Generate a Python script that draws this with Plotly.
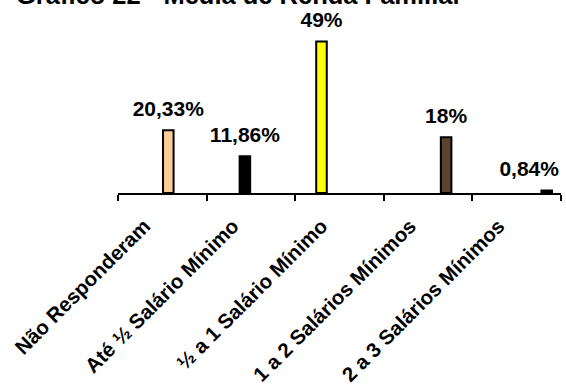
import plotly.graph_objects as go

categories = ["Não Responderam", "Até ½ Salário Mínimo", "½ a 1 Salário Mínimo",
              "1 a 2 Salários Mínimos", "2 a 3 Salários Mínimos"]
values = [20.33, 11.86, 49, 18, 0.84]
labels = ["20,33%", "11,86%", "49%", "18%", "0,84%\u00a0\u00a0\u00a0\u00a0\u00a0\u00a0"]
colors = ["#FFCC99", "#000000", "#FFFF00", "#5B4332", "#000000"]
# order of series within each category group (None = empty slot)
series_order = [None, 2, 1, 0, 3, 4]

title = "Gráfico 22 - Média de Renda Familiar"
FONT = "Liberation Sans, Arial, sans-serif"

fig = go.Figure()
for k, idx in enumerate(series_order):
    ys = [None] * len(categories)
    col = "#ffffff"
    if idx is not None:
        ys[idx] = values[idx]
        col = colors[idx]
    fig.add_trace(go.Bar(x=categories, y=ys, marker=dict(color=col, line=dict(color="#000000", width=2)),
                         offsetgroup=str(k), alignmentgroup="a", showlegend=False, hoverinfo="skip"))
for k, idx in enumerate(series_order):
    ys = [None] * len(categories)
    ts = [""] * len(categories)
    if idx is not None:
        ys[idx] = values[idx]
        ts[idx] = labels[idx]
    fig.add_trace(go.Scatter(x=categories, y=ys, text=ts, mode="markers+text", textposition="top center",
                             marker=dict(size=13, opacity=0),
                             textfont=dict(family=FONT, size=21, color="#000000", weight="bold"),
                             offsetgroup=str(k), alignmentgroup="a", showlegend=False,
                             cliponaxis=False, hoverinfo="skip"))

fig.add_annotation(text=title, xref="paper", yref="paper", x=-0.235, y=1.0706,
                   xanchor="left", yanchor="bottom", showarrow=False,
                   font=dict(family=FONT, size=25.5, color="#000000", weight="bold"))

fig.update_layout(
    width=566, height=385,
    margin=dict(l=118, r=5, t=23, b=192, autoexpand=False),
    paper_bgcolor="#ffffff", plot_bgcolor="#ffffff",
    barmode="group", scattermode="group", bargap=0.187, bargroupgap=0.12,
    showlegend=False,
)
fig.update_xaxes(showline=True, linecolor="#000000", linewidth=2, ticks="outside", ticklen=6,
                 tickwidth=2, tickcolor="#000000", tickson="boundaries", tickangle=-45,
                 ticklabelshift=-18, ticklabelstandoff=11,
                 tickfont=dict(family=FONT, size=20.5, color="#000000", weight="bold"),
                 showgrid=False, automargin=False)
fig.update_yaxes(range=[0, 55], visible=False, showgrid=False, zeroline=False)

fig.write_html("out.html")
